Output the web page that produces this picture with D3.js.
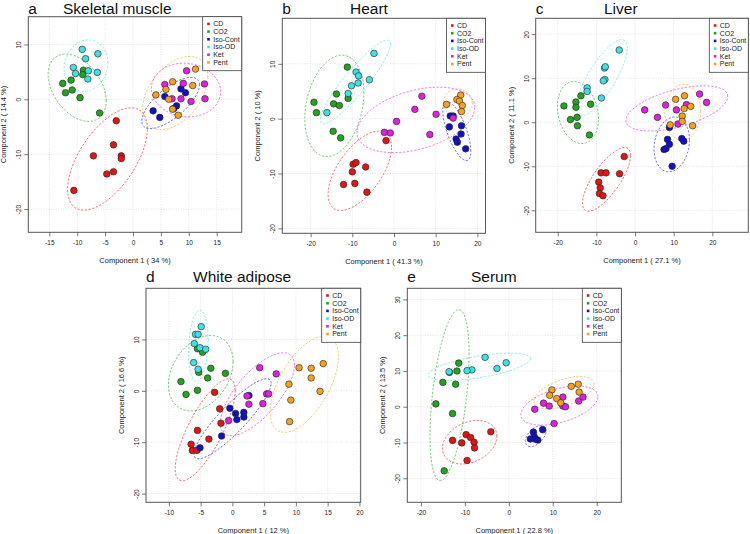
<!DOCTYPE html>
<html>
<head>
<meta charset="utf-8">
<script src="https://cdn.jsdelivr.net/npm/d3@7"></script>
<style>
  body { margin: 0; background: #fff; }
  svg text { font-family: "Liberation Sans", Arial, sans-serif; }
</style>
</head>
<body>
<div id="chart"></div>
<script>
// groups and colours shared by every panel
const groups = ["CD", "CO2", "Iso-Cont", "Iso-OD", "Ket", "Pent"];
const groupColors = ["#e31414", "#22a322", "#1010cc", "#3ee0e0", "#e020e0", "#f4a020"];

// scores, [component 1, component 2]
const muscle = {
  "CD": [[-3.0,-3.9],[-3.5,-8.3],[-7.1,-10.3],[-2.1,-10.3],[-2.1,-10.8],[-3.5,-13.2],[-4.7,-13.6],[-10.6,-16.6]],
  "CO2": [[-12.6,2.9],[-12.1,1.2],[-11.1,3.5],[-10.9,1.7],[-9.5,0.3],[-8.9,5.3],[-9.0,4.5],[-6.0,-2.5]],
  "Iso-Cont": [[3.6,-2.1],[4.8,-3.3],[5.7,0.5],[8.6,1.9],[9.4,1.2],[7.8,-1.2],[7.3,-1.7]],
  "Iso-OD": [[-9.1,9.1],[-6.3,8.3],[-8.5,7.4],[-10.7,5.8],[-10.3,4.7],[-8.0,5.2],[-8.1,3.7],[-6.4,4.9]],
  "Ket": [[9.6,5.2],[5.7,2.7],[9.0,2.9],[12.8,2.8],[7.0,0.1],[8.6,0.1],[10.4,-0.4],[12.9,0.1]],
  "Pent": [[11.2,5.5],[7.1,3.2],[10.7,2.5],[4.1,0.8],[5.9,1.8],[6.4,0.0],[7.1,-1.8],[8.1,-2.9]]
};
const heart = {
  "CD": [[-1.9,-4.0],[-9.8,-8.3],[-9.1,-8.0],[-6.8,-8.8],[-10.0,-9.7],[-12.1,-12.0],[-9.4,-11.8],[-6.5,-13.4]],
  "CO2": [[-11.2,9.4],[-19.2,3.0],[-18.6,1.1],[-13.8,4.5],[-14.5,2.7],[-13.1,2.4],[-11.0,3.7],[-14.6,-2.3],[-12.8,-3.5]],
  "Iso-Cont": [[13.5,0.5],[14.2,0.5],[13.3,-1.5],[16.2,-1.3],[16.1,-2.8],[14.9,-3.7],[15.2,-4.3],[17.2,-5.5]],
  "Iso-OD": [[-4.8,11.9],[-9.1,8.5],[-8.5,7.8],[-5.9,7.1],[-10.2,6.0],[-8.6,6.5],[-11.0,4.6],[-16.1,1.1]],
  "Ket": [[6.7,4.1],[5.0,1.7],[10.1,0.8],[0.6,-0.5],[-2.3,-2.5],[-0.9,-2.6],[8.6,-2.9],[14.2,0.1]],
  "Pent": [[12.6,2.6],[16.0,4.3],[15.1,3.5],[15.7,3.2],[16.4,2.4],[16.2,1.3]]
};
const liver = {
  "CD": [[-2.8,-7.8],[-8.8,-11.5],[-7.5,-11.5],[-4.0,-11.7],[-9.4,-13.6],[-9.0,-14.9],[-9.2,-16.2],[-8.3,-16.7]],
  "CO2": [[-18.4,3.7],[-14.0,6.0],[-15.3,4.6],[-15.3,3.4],[-11.5,4.1],[-16.7,0.6],[-15.0,1.1],[-14.9,-0.8],[-11.8,-2.9]],
  "Iso-Cont": [[8.9,-1.2],[8.4,-3.9],[8.9,-5.0],[7.5,-6.2],[8.0,-6.0],[12.1,-3.7],[12.6,-4.3],[9.6,-10.0]],
  "Iso-OD": [[-4.1,16.4],[-7.9,12.3],[-7.7,12.6],[-7.8,9.7],[-8.2,9.4],[-12.4,7.8],[-12.4,7.0],[-8.7,5.5]],
  "Ket": [[2.5,2.8],[5.8,1.1],[7.9,3.9],[10.7,2.8],[13.3,4.0],[16.7,6.4],[18.5,4.5],[11.1,-0.4]],
  "Pent": [[10.5,5.2],[12.8,6.0],[14.4,3.6],[12.7,3.1],[12.2,1.4],[12.2,0.2],[14.9,-0.8],[9.1,-0.6]]
};
const adipose = {
  "CD": [[-2.8,-0.3],[-2.0,-3.5],[-1.8,-6.3],[-5.5,-7.7],[-3.7,-9.4],[-6.5,-10.4],[-6.3,-11.6],[-5.6,-11.6]],
  "CO2": [[-8.1,1.8],[-7.3,-0.7],[-5.5,0.1],[-5.5,8.2],[-4.7,7.5],[-5.3,3.6],[-3.9,2.5],[-3.4,4.4],[-1.1,3.4]],
  "Iso-Cont": [[-5.1,-11.1],[-1.7,-8.8],[-0.4,-3.4],[0.5,-4.4],[0.7,-5.6],[1.8,-4.2],[1.8,-5.1],[2.6,-0.9]],
  "Iso-OD": [[-4.9,12.5],[-5.8,11.0],[-5.4,11.0],[-6.0,9.2],[-5.1,8.4],[-4.2,8.1],[-6.1,5.5],[-5.4,4.2]],
  "Ket": [[4.3,4.5],[6.9,3.3],[2.3,-1.0],[2.6,-2.6],[4.8,-2.5],[5.4,-0.6],[5.7,-0.6],[-0.6,-5.8]],
  "Pent": [[10.5,4.5],[12.4,4.4],[14.3,5.3],[12.4,2.5],[8.9,1.3],[13.8,-0.1],[9.2,-1.8],[9.0,-6.0]]
};
const serum = {
  "CD": [[-9.7,-7.8],[-8.7,-8.6],[-7.9,-9.9],[-7.8,-11.5],[-4.1,-7.0],[-12.8,-9.4],[-10.7,-10.1],[-9.5,-15.0]],
  "CO2": [[-11.4,12.2],[-13.5,9.6],[-11.8,10.0],[-15.0,6.8],[-12.1,6.3],[-16.6,0.8],[-12.8,-1.9],[-14.7,-17.9]],
  "Iso-Cont": [[7.7,-6.4],[5.6,-7.1],[5.8,-8.4],[4.9,-9.0],[6.6,-9.3],[6.1,-9.1]],
  "Iso-OD": [[-5.4,13.8],[-0.6,12.3],[-2.7,10.7],[-8.4,10.3],[-9.5,10.1],[-13.6,9.8]],
  "Ket": [[5.9,-0.7],[7.9,1.0],[9.2,0.2],[12.3,0.2],[12.9,0.0],[12.3,2.7],[15.9,1.6],[16.9,2.7],[10.3,-4.7]],
  "Pent": [[9.8,4.7],[9.3,3.2],[10.9,2.3],[11.8,1.1],[14.2,5.7],[15.8,6.3],[16.0,4.1]]
};

// panel layout: pixel box, axis extents, tick values, labels
const panels = [
  {letter: "a", title: "Skeletal muscle", data: muscle, box: [28.3, 16.7, 241.7, 232.3],
   xDom: [-18.77, 19.48], yDom: [-24.23, 15.05], xTicks: [-15,-10,-5,0,5,10,15], yTicks: [-20,-10,0,10],
   xLab: "Component 1 ( 34 %)", yLab: "Component 2 ( 14.4 %)", titleX: 63},
  {letter: "b", title: "Heart", data: heart, box: [282.3, 18.3, 485.5, 233.3],
   xDom: [-26.8, 21.96], yDom: [-20.9, 18.3], xTicks: [-20,-10,0,10,20], yTicks: [-20,-10,0,10],
   xLab: "Component 1 ( 41.3 %)", yLab: "Component 2 ( 10 %)", titleX: 350},
  {letter: "c", title: "Liver", data: liver, box: [535.7, 18.3, 748.3, 232.3],
   xDom: [-25.7, 29.3], yDom: [-25.0, 23.6], xTicks: [-20,-10,0,10,20], yTicks: [-20,-10,0,10,20],
   xLab: "Component 1 ( 27.1 %)", yLab: "Component 2 ( 11.1 %)", titleX: 604},
  {letter: "d", title: "White adipose", data: adipose, box: [146, 288.3, 360.7, 502.3],
   xDom: [-13.6, 20.2], yDom: [-21.7, 19.96], xTicks: [-10,-5,0,5,10,15,20], yTicks: [-20,-10,0,10],
   xLab: "Component 1 ( 12 %)", yLab: "Component 2 ( 16.6 %)", titleX: 193},
  {letter: "e", title: "Serum", data: serum, box: [407.3, 288.3, 621.3, 502.3],
   xDom: [-23.1, 25.6], yDom: [-26.7, 33.1], xTicks: [-20,-10,0,10,20], yTicks: [-20,-10,0,10,20,30],
   xLab: "Component 1 ( 22.8 %)", yLab: "Component 2 ( 13.5 %)", titleX: 471}
];

const svg = d3.select("#chart").append("svg")
  .attr("width", 750).attr("height", 534);

// 95% confidence ellipse, same as ellipse::ellipse(cov, level = 0.95)
const tScale = Math.sqrt(5.991465);
function ellipsePoints(pts) {
  let mx = d3.mean(pts, p => p[0]), my = d3.mean(pts, p => p[1]);
  let n = pts.length;
  let sxx = d3.sum(pts, p => (p[0]-mx)*(p[0]-mx)) / (n-1);
  let syy = d3.sum(pts, p => (p[1]-my)*(p[1]-my)) / (n-1);
  let sxy = d3.sum(pts, p => (p[0]-mx)*(p[1]-my)) / (n-1);
  // cholesky of the covariance
  let l11 = Math.sqrt(sxx), l21 = sxy / l11, l22 = Math.sqrt(Math.max(syy - l21*l21, 0));
  return d3.range(0, 101).map(i => {
    let a = i / 100 * 2 * Math.PI;
    let u = Math.cos(a) * tScale, v = Math.sin(a) * tScale;
    return [mx + l11*u, my + l21*u + l22*v];
  });
}

panels.forEach((p, pi) => {
  let [x0, y0, x1, y1] = p.box;
  let xScale = d3.scaleLinear().domain(p.xDom).range([x0, x1]);
  let yScale = d3.scaleLinear().domain(p.yDom).range([y1, y0]);
  let g = svg.append("g");

  g.append("clipPath").attr("id", "clip" + pi)
    .append("rect").attr("x", x0).attr("y", y0).attr("width", x1-x0).attr("height", y1-y0);

  // grid
  g.selectAll(".vgrid").data(p.xTicks).enter().append("line")
    .attr("x1", d => xScale(d)).attr("x2", d => xScale(d))
    .attr("y1", y0).attr("y2", y1)
    .style("stroke", "#d6d6d6").style("stroke-width", 0.7).style("stroke-dasharray", "1,1.5");
  g.selectAll(".hgrid").data(p.yTicks).enter().append("line")
    .attr("y1", d => yScale(d)).attr("y2", d => yScale(d))
    .attr("x1", x0).attr("x2", x1)
    .style("stroke", "#d6d6d6").style("stroke-width", 0.7).style("stroke-dasharray", "1,1.5");

  // axes
  let fmt = d => d < 0 ? "-" + Math.abs(d) : d;
  let xAxis = d3.axisBottom(xScale).tickValues(p.xTicks).tickSize(4).tickFormat(fmt);
  let yAxis = d3.axisLeft(yScale).tickValues(p.yTicks).tickSize(4).tickFormat(fmt);
  let gx = g.append("g").attr("transform", "translate(0," + y1 + ")").call(xAxis);
  let gy = g.append("g").attr("transform", "translate(" + x0 + ",0)").call(yAxis);
  [gx, gy].forEach(a => {
    a.select(".domain").remove();
    a.selectAll("line").style("stroke", "#555").style("stroke-width", 0.8);
    a.selectAll("text").style("font-size", "6.5px").style("fill", "#222");
  });
  gx.selectAll("text").attr("y", 8);
  // R draws the y tick labels turned on their side
  gy.selectAll("text")
    .attr("x", 0).attr("y", -7).attr("dy", 0)
    .attr("text-anchor", "middle")
    .attr("transform", "rotate(-90)");

  // frame
  g.append("rect").attr("x", x0).attr("y", y0).attr("width", x1-x0).attr("height", y1-y0)
    .style("fill", "none").style("stroke", "#555").style("stroke-width", 1);

  // axis titles
  g.append("text").attr("x", (x0+x1)/2).attr("y", y1 + 31)
    .attr("text-anchor", "middle").style("font-size", "7.5px").style("fill", "#222")
    .text(p.xLab);
  g.append("text").attr("transform", "translate(" + (x0 - 22) + "," + ((y0+y1)/2) + ") rotate(-90)")
    .attr("text-anchor", "middle").style("font-size", "7.5px").style("fill", "#222")
    .text(p.yLab);

  // titles
  let ty = pi < 3 ? 14 : y0 - 6.5;
  g.append("text").attr("x", x0).attr("y", ty)
    .style("font-size", "15.5px").style("fill", "#111").text(p.letter);
  g.append("text").attr("x", p.titleX).attr("y", ty)
    .style("font-size", "15.5px").style("fill", "#111").text(p.title);

  let plot = g.append("g").attr("clip-path", "url(#clip" + pi + ")");
  let line = d3.line().x(d => xScale(d[0])).y(d => yScale(d[1]));

  // ellipses
  groups.forEach((grp, gi) => {
    plot.append("path").datum(ellipsePoints(p.data[grp]))
      .attr("d", line)
      .style("fill", "none").style("stroke", groupColors[gi])
      .style("stroke-opacity", 0.75).style("stroke-width", 0.8)
      .style("stroke-dasharray", "2.2,1.6");
  });

  // points
  groups.forEach((grp, gi) => {
    plot.selectAll(".pt" + gi).data(p.data[grp]).enter().append("circle")
      .attr("cx", d => xScale(d[0])).attr("cy", d => yScale(d[1]))
      .attr("r", 3.3)
      .style("fill", groupColors[gi]).style("stroke", "#222").style("stroke-width", 0.6);
  });

  // legend
  let lw = 39, lh = 54;
  let lg = g.append("g").attr("transform", "translate(" + (x1 - lw) + "," + y0 + ")");
  lg.append("rect").attr("width", lw).attr("height", lh)
    .style("fill", "#fff").style("stroke", "#444").style("stroke-width", 0.8);
  groups.forEach((grp, gi) => {
    lg.append("rect").attr("x", 4.5).attr("y", 7.2 + gi*7.7 - 1.3).attr("width", 2.6).attr("height", 2.6)
      .style("fill", groupColors[gi]);
    lg.append("text").attr("x", 10.5).attr("y", 7.2 + gi*7.7 + 2.4)
      .style("font-size", "7px").style("fill", "#222").text(grp);
  });
});
</script>
</body>
</html>
